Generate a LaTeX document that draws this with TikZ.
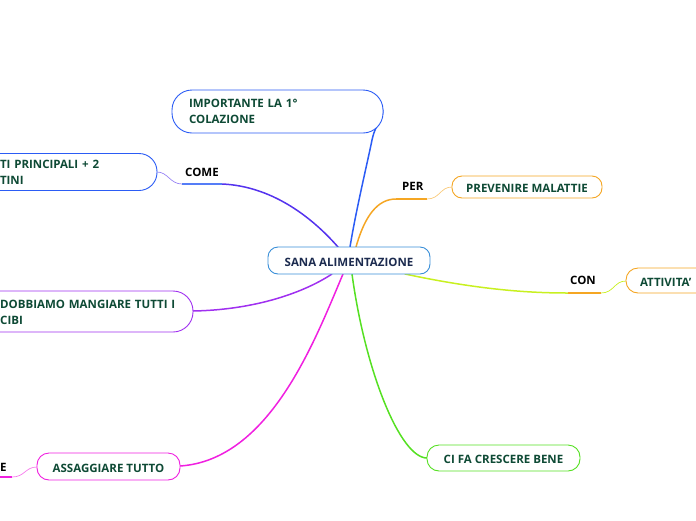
\documentclass[tikz,border=0pt]{standalone}
\usepackage{fontspec}
\setmainfont{Open Sans}
\definecolor{txtgreen}{HTML}{0E4A35}
\definecolor{navy}{HTML}{1C2B4F}
\definecolor{cblue}{HTML}{3A8FD8}
\definecolor{bblue}{HTML}{2B5CF5}
\definecolor{violet}{HTML}{5533EE}
\definecolor{cpurple}{HTML}{A030F0}
\definecolor{cmagenta}{HTML}{F020E0}
\definecolor{corange}{HTML}{F5A623}
\definecolor{cyellow}{HTML}{C8F020}
\definecolor{cgreen}{HTML}{55E022}
\tikzset{
  topic/.style={draw, line width=0.9pt, fill=white, rounded corners=12pt, font=\bfseries\fontsize{11.5}{16}\selectfont, text=txtgreen, inner ysep=0pt},
  oneline/.style={text height=11pt, text depth=0pt},
  lbl/.style={font=\bfseries\fontsize{11.5}{16}\selectfont, text=black, inner sep=0pt, anchor=west},
  conn/.style={line width=1.5pt, line cap=round},
  tail/.style={line width=0.7pt},
}
\begin{document}
\begin{tikzpicture}[x=1pt,y=-1pt]
\useasboundingbox (0,0) rectangle (696,520);
\clip (0,0) rectangle (696,520);
% coordinates for underlines
\coordinate (comeA) at (182,184);
\coordinate (comeB) at (222,184);
\coordinate (perA) at (396,199);
\coordinate (perB) at (427,199);
\coordinate (conA) at (568,293);
\coordinate (conB) at (601,293);
\coordinate (eA) at (-5,477);
\coordinate (eB) at (12,477);
\coordinate (cTop) at (350,247);
\coordinate (cCome) at (338,247);
\coordinate (cPer) at (356,247);
\coordinate (cDob) at (332,274);
\coordinate (cAss) at (343,274);
\coordinate (cGreen) at (352,274);
\coordinate (cCon) at (405,274);

% connectors
\draw[conn, bblue] (cTop) .. controls (356,210) and (368,160) .. (372,140) .. controls (376,122) and (383,120) .. (383,110);
\draw[conn, violet] (cCome) .. controls (310,215) and (270,186) .. (comeB);
\draw[line width=2pt, bblue!80] (comeA) -- (comeB);
\draw[tail, violet!60] (157,172) .. controls (168,172) and (170,184) .. (comeA);
\draw[conn, cpurple] (cDob) .. controls (300,295) and (250,310) .. (193,311);
\draw[conn, cmagenta] (cAss) .. controls (315,340) and (270,460) .. (180,466);
\draw[line width=2pt, cmagenta] (eA) -- (eB);
\draw[tail, cmagenta!60] (eB) .. controls (25,477) and (25,467) .. (37,467);
\draw[conn, corange] (cPer) .. controls (365,215) and (378,199) .. (perA);
\draw[line width=2pt, corange] (perA) -- (perB);
\draw[tail, corange!60] (perB) .. controls (440,199) and (440,187) .. (452,187);
\draw[conn, cyellow] (cCon) .. controls (480,290) and (530,293) .. (conA);
\draw[line width=2pt, corange] (conA) -- (conB);
\draw[tail, cyellow] (conB) .. controls (614,293) and (614,281) .. (626,281);
\draw[conn, cgreen] (cGreen) .. controls (365,370) and (400,458) .. (427,458);

% nodes
\node[topic, oneline, draw=cblue, text=navy, rounded corners=10pt, minimum width=162pt, minimum height=27pt] (center) at (349,260.5) {SANA ALIMENTAZIONE};
\node[topic, draw=bblue, rounded corners=20pt, minimum width=211pt, minimum height=43pt, text width=177pt, inner xsep=17pt, align=left] (imp) at (277.5,111.5) {IMPORTANTE LA 1°\\COLAZIONE};
\node[topic, draw=bblue, rounded corners=18pt, minimum width=187pt, minimum height=37pt, text width=127pt, inner xsep=30pt, align=left] (pasti) at (63.5,172) {TI PRINCIPALI + 2\\TINI};
\draw[line width=0.9pt, cpurple, fill=white, rounded corners=20pt] (-40,291) rectangle (193,332);
\node[font=\bfseries\fontsize{11.5}{16}\selectfont, text=txtgreen, inner sep=0pt, text width=190pt, align=left, anchor=west] (dob) at (0,312) {DOBBIAMO MANGIARE TUTTI I\\CIBI};
\node[topic, oneline, draw=cmagenta, minimum width=143pt, minimum height=27pt] (ass) at (108.5,466.5) {ASSAGGIARE TUTTO};
\node[topic, oneline, draw=corange, rounded corners=10pt, minimum width=150pt, minimum height=22pt] (prev) at (527,187) {PREVENIRE MALATTIE};
\node[topic, oneline, draw=corange, minimum width=90pt, minimum height=25pt, text width=62pt, inner xsep=14pt, align=left] (att) at (671,280.5) {ATTIVITA'};
\node[topic, oneline, draw=cgreen, minimum width=153pt, minimum height=26pt] (cifa) at (503.5,458) {CI FA CRESCERE BENE};

% labels
\node[lbl] (come) at (185,172.5) {COME};
\node[lbl] (per) at (402,186.5) {PER};
\node[lbl] (con) at (570,280.5) {CON};
\node[lbl] (e) at (0,467.5) {E};
\end{tikzpicture}
\end{document}
